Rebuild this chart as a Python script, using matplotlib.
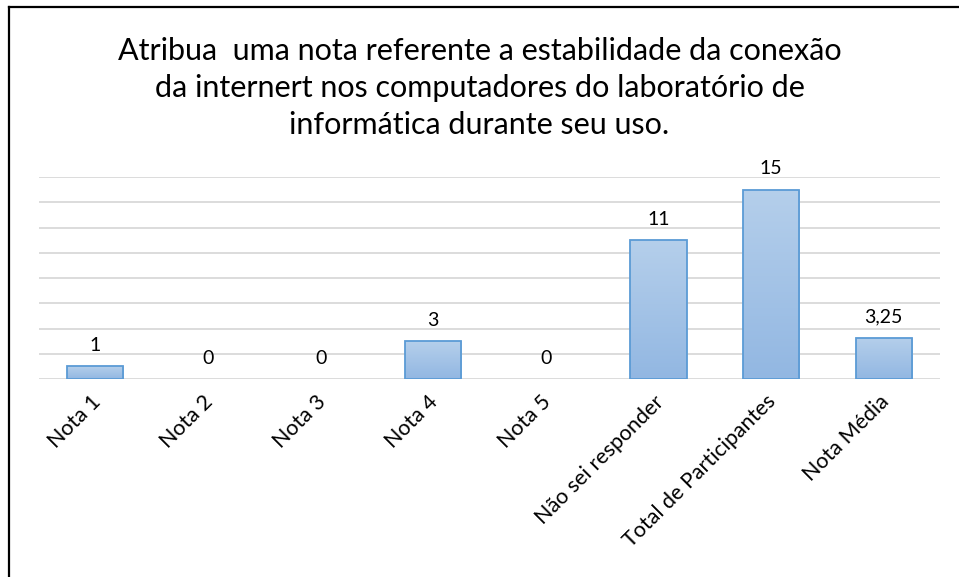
import numpy as np
import matplotlib.pyplot as plt
import matplotlib.transforms as mtransforms
from matplotlib.lines import Line2D
from matplotlib.colors import LinearSegmentedColormap

categories = ["Nota 1", "Nota 2", "Nota 3", "Nota 4", "Nota 5",
              "Não sei responder", "Total de Participantes", "Nota Média"]
values = [1, 0, 0, 3, 0, 11, 15, 3.25]
value_labels = ["1", "0", "0", "3", "0", "11", "15", "3,25"]
title = ("Atribua  uma nota referente a estabilidade da conexão\n"
         "da internert nos computadores do laboratório de\n"
         "informática durante seu uso.")

plt.rcParams["font.family"] = ["Lato", "DejaVu Sans"]


def main():
    fig = plt.figure(figsize=(9.59, 5.77), dpi=100)
    ax = fig.add_axes([39 / 959, 1 - 379 / 577, 901 / 959, 202 / 577])

    x = np.arange(len(categories))
    bars = ax.bar(x, values, width=0.5, facecolor="none",
                  edgecolor="#5b9bd5", linewidth=1.3, zorder=3)

    # vertical gradient fill inside each bar; empty bars are not drawn
    grad = LinearSegmentedColormap.from_list("bar", ["#92b7e2", "#b5cfeb"])
    g = np.linspace(0, 1, 256).reshape(-1, 1)
    for b in bars:
        if b.get_height() <= 0:
            b.set_visible(False)
            continue
        x0, w, h = b.get_x(), b.get_width(), b.get_height()
        im = ax.imshow(g, cmap=grad, origin="lower", aspect="auto",
                       extent=[x0, x0 + w, 0, h], zorder=2)
        im.set_clip_path(b)

    for xi, v, lab in zip(x, values, value_labels):
        ax.annotate(lab, (xi, v), xytext=(0, 9), textcoords="offset points",
                    ha="center", va="bottom", fontsize=14, color="#000000")

    ax.set_xlim(-0.5, len(categories) - 0.5)
    ax.set_ylim(0, 16)
    ax.set_yticks(np.arange(0, 17, 2))
    ax.yaxis.grid(True, color="#d9d9d9", linewidth=1.3, zorder=0)
    ax.set_axisbelow(True)
    ax.tick_params(axis="y", left=False, labelleft=False)
    ax.tick_params(axis="x", length=0, pad=9)
    ax.set_xticks(x)
    ax.set_xticklabels(categories, rotation=45, ha="right", va="top",
                       rotation_mode="anchor", fontsize=15.5)
    # nudge the slanted labels a little to the left
    shift = mtransforms.ScaledTranslation(-5 / 100, 0, fig.dpi_scale_trans)
    for lbl in ax.get_xticklabels():
        lbl.set_transform(lbl.get_transform() + shift)
    for s in ax.spines.values():
        s.set_visible(False)

    fig.text(0.5, 1 - 88 / 577, title, ha="center", va="center",
             fontsize=22, linespacing=1.4)

    # chart frame (top and left edges)
    fig.add_artist(Line2D([9 / 959, 1], [1 - 6.5 / 577, 1 - 6.5 / 577],
                          transform=fig.transFigure, color="black", linewidth=1.6))
    fig.add_artist(Line2D([9 / 959, 9 / 959], [0, 1 - 6.5 / 577],
                          transform=fig.transFigure, color="black", linewidth=1.6))

    fig.savefig("out.png", dpi=100)


if __name__ == "__main__":
    main()
